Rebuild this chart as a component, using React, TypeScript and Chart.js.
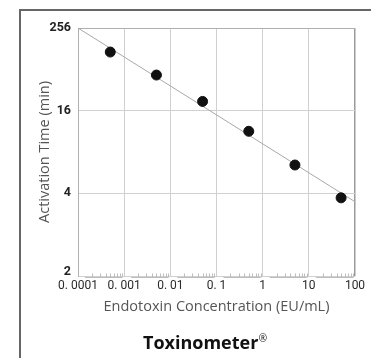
import React, { useEffect, useRef } from "react";
import { Chart, registerables, LinearScale } from "chart.js";

Chart.register(...registerables);

// ---- data ----
const CONCENTRATIONS = [0.0005, 0.005, 0.05, 0.5, 5, 50];
const ACTIVATION_TIMES = [93, 42, 20, 10.3, 5.8, 3.8];
const FIT_X = [0.0001, 100];
const FIT_Y = [256, 3.64];
const X_TICKS = [0.0001, 0.001, 0.01, 0.1, 1, 10, 100];
const X_LABELS = ["0. 0001", "0. 001", "0. 01", "0. 1", "1", "10", "100"];
const Y_TICKS = [2, 4, 16, 256];
const Y_LABELS = ["2", "4", "16", "256"];
const MINOR_STEPS = [2, 3, 4, 5, 6, 7, 8, 9];

// log(log2(t)) scale: 2, 4, 16, 256 equally spaced
const ff = (v: number) => Math.log2(Math.log2(v));
class LogLogScale extends (LinearScale as any) {
  static id = "loglog";
  _fStart = 0;
  _fRange = 1;
  buildTicks() {
    return Y_TICKS.map((v) => ({ value: v }));
  }
  configure() {
    super.configure();
    this._fStart = ff(this.min);
    this._fRange = ff(this.max) - this._fStart;
  }
  getPixelForValue(value: number) {
    if (value === null || value === undefined || isNaN(value)) return NaN;
    return this.getPixelForDecimal((ff(value) - this._fStart) / this._fRange);
  }
  getValueForPixel(pixel: number) {
    const d = this.getDecimalForPixel(pixel);
    return Math.pow(2, Math.pow(2, this._fStart + d * this._fRange));
  }
}
Chart.register(LogLogScale as any);

const framePlugin = {
  id: "frame",
  beforeDraw(chart: any) {
    const ctx = chart.ctx;
    ctx.save();
    ctx.strokeStyle = "#666";
    ctx.lineWidth = 2;
    ctx.beginPath();
    ctx.moveTo(20, 400);
    ctx.lineTo(20, 10);
    ctx.lineTo(400, 10);
    ctx.stroke();
    ctx.restore();
  },
};

const rulerPlugin = {
  id: "ruler",
  afterDraw(chart: any) {
    const ctx = chart.ctx;
    const xs = chart.scales.x;
    const base = chart.chartArea.bottom + 1.5;
    ctx.save();
    ctx.strokeStyle = "#bdbdbd";
    ctx.lineWidth = 1;
    for (let i = 0; i < X_TICKS.length - 1; i++) {
      const d = X_TICKS[i];
      const x0 = xs.getPixelForValue(d);
      const x1 = xs.getPixelForValue(X_TICKS[i + 1]);
      ctx.beginPath();
      ctx.moveTo(x0 + 7, base);
      ctx.lineTo(x1 - 2, base);
      ctx.stroke();
      MINOR_STEPS.forEach((k) => {
        const x = Math.round(xs.getPixelForValue(d * k)) + 0.5;
        ctx.beginPath();
        ctx.moveTo(x, base);
        ctx.lineTo(x, base - 4);
        ctx.stroke();
      });
    }
    ctx.restore();
  },
};

const titlePlugin = {
  id: "brandTitle",
  afterDraw(chart: any) {
    const ctx = chart.ctx;
    ctx.save();
    ctx.fillStyle = "#111";
    ctx.textBaseline = "alphabetic";
    ctx.textAlign = "left";
    ctx.font = 'bold 18px "Open Sans", sans-serif';
    const text = "Toxinometer";
    const x = 143;
    const y = 349;
    ctx.fillText(text, x, y);
    const w = ctx.measureText(text).width;
    ctx.font = '10px "Open Sans", sans-serif';
    ctx.fillText("®", x + w + 0.5, y - 7);
    ctx.restore();
  },
};

export default function App() {
  const ref = useRef<HTMLCanvasElement>(null);
  useEffect(() => {
    if (!ref.current) return;
    const chart = new Chart(ref.current, {
      type: "scatter",
      data: {
        datasets: [
          {
            type: "scatter",
            data: CONCENTRATIONS.map((c, i) => ({ x: c, y: ACTIVATION_TIMES[i] })),
            backgroundColor: "#111",
            borderColor: "#111",
            pointRadius: 5,
            pointHoverRadius: 5,
          },
          {
            type: "line",
            data: FIT_X.map((c, i) => ({ x: c, y: FIT_Y[i] })),
            borderColor: "#a8a8a8",
            borderWidth: 1,
            pointRadius: 0,
            fill: false,
          } as any,
        ],
      },
      plugins: [framePlugin, rulerPlugin, titlePlugin],
      options: {
        responsive: false,
        animation: false,
        layout: { padding: { left: 0, top: 28, right: 16, bottom: 0 } },
        plugins: { legend: { display: false }, tooltip: { enabled: false } },
        scales: {
          x: {
            type: "logarithmic",
            min: 0.0001,
            max: 100,
            afterBuildTicks: (s: any) => {
              s.ticks = X_TICKS.map((v) => ({ value: v }));
            },
            afterFit: (s: any) => {
              s.height = 82;
            },
            ticks: {
              autoSkip: false,
              maxRotation: 0,
              padding: 3,
              color: "#2a2a2a",
              font: { family: 'Roboto, sans-serif', size: 12 },
              callback: (_v: any, i: number) => X_LABELS[i],
            },
            grid: {
              drawTicks: false,
              color: (c: any) => (c.index === X_TICKS.length - 1 ? "#9a9a9a" : "#d0d0d0"),
              lineWidth: (c: any) => (c.index === X_TICKS.length - 1 ? 1.5 : 1),
            },
            border: { display: false },
            title: {
              display: true,
              text: "Endotoxin Concentration (EU/mL)",
              color: "#555",
              font: { family: '"Open Sans", sans-serif', size: 14.5 },
              padding: { top: 0, bottom: 42 },
            },
          },
          y: {
            type: "loglog" as any,
            min: 2,
            max: 256,
            afterFit: (s: any) => {
              s.width = 78;
            },
            ticks: {
              padding: 7,
              color: "#222",
              font: { family: 'Roboto, sans-serif', size: 12.5, weight: "bold", lineHeight: 0.65 },
              callback: (v: any) => {
                const i = Y_TICKS.indexOf(Number(v));
                const lab = i >= 0 ? Y_LABELS[i] : "";
                return Number(v) === 2 ? [lab, ""] : lab;
              },
            },
            grid: {
              drawTicks: false,
              color: (c: any) => (c.index === Y_TICKS.length - 1 ? "#b0b0b0" : "#d0d0d0"),
            },
            border: { display: true, color: "#b0b0b0" },
            title: {
              display: true,
              text: "Activation Time (min)",
              color: "#555",
              font: { family: '"Open Sans", sans-serif', size: 14.5 },
              padding: { top: 36, bottom: 0 },
            },
          } as any,
        },
      } as any,
    });
    return () => chart.destroy();
  }, []);
  return (
    <div style={{ position: "fixed", left: 0, top: 0, width: 371, height: 358, background: "#fff" }}>
      <canvas ref={ref} width={371} height={358} style={{ display: "block" }} />
    </div>
  );
}
